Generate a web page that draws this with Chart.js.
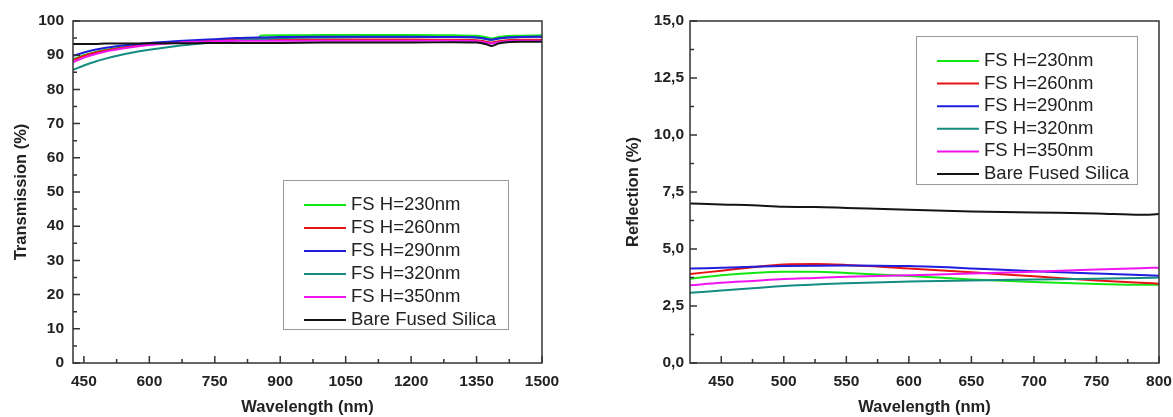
<!DOCTYPE html>
<html>
<head>
<meta charset="utf-8">
<script src="https://cdn.jsdelivr.net/npm/chart.js@4.4.1/dist/chart.umd.min.js"></script>
<style>
  body { margin: 0; background: #fff; }
  #wrap { position: relative; width: 1173px; height: 417px; }
  .box { position: absolute; top: 0; height: 417px; }
</style>
</head>
<body>
<div id="wrap">
  <div class="box" style="left:0;width:590px"><canvas id="trans_chart"></canvas></div>
  <div class="box" style="left:600px;width:573px"><canvas id="refl_chart"></canvas></div>
</div>
<script>
const seriesLabels = ["FS H=230nm", "FS H=260nm", "FS H=290nm", "FS H=320nm", "FS H=350nm", "Bare Fused Silica"];
const seriesColors = ["rgb(20,230,20)", "rgb(230,20,20)", "rgb(30,30,220)", "rgb(20,140,130)", "rgb(240,20,240)", "rgb(20,20,20)"];

// transmission (left)
const transWl = [425, 450, 475, 500, 550, 600, 650, 700, 750, 800, 850, 855, 900, 1000, 1100, 1200, 1300, 1350, 1370, 1385, 1400, 1420, 1450, 1500];
const trans230 = [88.8, 90.0, 90.9, 91.6, 92.5, 93.2, 93.7, 94.1, 94.4, 94.7, 94.9, 95.7, 95.8, 95.9, 95.9, 95.9, 95.8, 95.7, 95.3, 94.9, 95.3, 95.6, 95.7, 95.8];
const trans260 = [88.6, 89.8, 90.7, 91.4, 92.4, 93.1, 93.6, 94.0, 94.3, 94.5, 94.6, 94.6, 94.6, 94.6, 94.6, 94.6, 94.5, 94.4, 94.0, 93.7, 94.1, 94.4, 94.5, 94.5];
const trans290 = [89.8, 90.8, 91.6, 92.2, 93.0, 93.6, 94.0, 94.4, 94.7, 95.0, 95.2, 95.2, 95.3, 95.4, 95.4, 95.4, 95.3, 95.2, 94.8, 94.5, 94.9, 95.2, 95.3, 95.4];
const trans320 = [85.7, 87.0, 88.1, 89.0, 90.5, 91.6, 92.5, 93.2, 93.8, 94.3, 94.7, 94.7, 95.0, 95.2, 95.3, 95.3, 95.3, 95.2, 94.8, 94.5, 94.9, 95.2, 95.3, 95.4];
const trans350 = [88.0, 89.3, 90.3, 91.1, 92.2, 93.0, 93.5, 93.9, 94.1, 94.2, 94.2, 94.2, 94.2, 94.2, 94.2, 94.2, 94.2, 94.1, 93.7, 93.4, 93.8, 94.1, 94.2, 94.2];
const transBare = [93.3, 93.3, 93.3, 93.4, 93.4, 93.5, 93.5, 93.5, 93.6, 93.6, 93.6, 93.6, 93.6, 93.7, 93.7, 93.7, 93.8, 93.7, 93.3, 92.7, 93.4, 93.8, 93.9, 93.9];
const transXTicks = [450, 600, 750, 900, 1050, 1200, 1350, 1500];
const transXMinor = [525, 675, 825, 975, 1125, 1275, 1425];
const transYTicks = [0, 10, 20, 30, 40, 50, 60, 70, 80, 90, 100];
const transYMinor = [5, 15, 25, 35, 45, 55, 65, 75, 85, 95];

// reflection (right)
const reflWl = [425, 450, 475, 500, 525, 550, 600, 650, 700, 750, 785, 800];
const refl230 = [3.70, 3.85, 3.95, 4.00, 4.00, 3.95, 3.82, 3.66, 3.55, 3.47, 3.43, 3.43];
const refl260 = [3.90, 4.05, 4.20, 4.32, 4.34, 4.30, 4.15, 3.98, 3.80, 3.62, 3.52, 3.48];
const refl290 = [4.14, 4.18, 4.22, 4.25, 4.27, 4.28, 4.25, 4.15, 4.02, 3.92, 3.86, 3.83];
const refl320 = [3.08, 3.18, 3.28, 3.38, 3.44, 3.50, 3.57, 3.62, 3.66, 3.70, 3.73, 3.75];
const refl350 = [3.41, 3.52, 3.60, 3.68, 3.73, 3.78, 3.85, 3.92, 4.00, 4.10, 4.16, 4.18];
const reflBare = [7.00, 6.95, 6.92, 6.85, 6.84, 6.80, 6.72, 6.65, 6.60, 6.56, 6.50, 6.53];
const reflXTicks = [450, 500, 550, 600, 650, 700, 750, 800];
const reflXMinor = [475, 525, 575, 625, 675, 725, 775];
const reflYTicks = [0, 2.5, 5, 7.5, 10, 12.5, 15];
const reflYMinor = [1.25, 3.75, 6.25, 8.75, 11.25, 13.75];

const frameTicks = {
  id: "frameTicks",
  afterDatasetsDraw(chart, args, opts) {
    const { ctx, chartArea: a, scales: { x, y } } = chart;
    ctx.save();
    ctx.strokeStyle = "#333";
    ctx.lineWidth = 1.5;
    ctx.strokeRect(a.left, a.top, a.right - a.left, a.bottom - a.top);
    ctx.beginPath();
    x.ticks.forEach((t) => { const p = x.getPixelForValue(t.value); ctx.moveTo(p, a.bottom); ctx.lineTo(p, a.bottom - 7); });
    opts.xMinor.forEach((v) => { const p = x.getPixelForValue(v); ctx.moveTo(p, a.bottom); ctx.lineTo(p, a.bottom - 4); });
    y.ticks.forEach((t) => { const p = y.getPixelForValue(t.value); ctx.moveTo(a.left, p); ctx.lineTo(a.left + 7, p); });
    opts.yMinor.forEach((v) => { const p = y.getPixelForValue(v); ctx.moveTo(a.left, p); ctx.lineTo(a.left + 4, p); });
    ctx.stroke();
    ctx.restore();
  },
};

const boxLegend = {
  id: "boxLegend",
  afterDraw(chart, args, opts) {
    const ctx = chart.ctx;
    ctx.save();
    ctx.fillStyle = "#fff";
    ctx.fillRect(opts.left, opts.top, opts.width, opts.height);
    ctx.strokeStyle = "#999";
    ctx.lineWidth = 1;
    ctx.strokeRect(opts.left + 0.5, opts.top + 0.5, opts.width, opts.height);
    ctx.font = "18.5px 'Liberation Sans', Arial, sans-serif";
    ctx.textBaseline = "middle";
    chart.data.datasets.forEach((ds, i) => {
      const yy = opts.top + opts.firstRow + i * opts.rowGap;
      ctx.strokeStyle = ds.borderColor;
      ctx.lineWidth = 2;
      ctx.beginPath();
      ctx.moveTo(opts.left + 21, yy);
      ctx.lineTo(opts.left + 63, yy);
      ctx.stroke();
      ctx.fillStyle = "#222";
      ctx.fillText(ds.label, opts.left + 68, yy);
    });
    ctx.restore();
  },
};

function makeDatasets(wl, lists) {
  const order = [6, 5, 3, 4, 2, 1];
  return lists.map((vals, i) => ({
    label: seriesLabels[i],
    data: wl.map((w, k) => ({ x: w, y: vals[k] })),
    borderColor: seriesColors[i],
    backgroundColor: seriesColors[i],
    borderWidth: 2,
    pointRadius: 0,
    cubicInterpolationMode: "monotone",
    order: order[i],
  }));
}

const tickFont = { family: "'Liberation Sans', Arial, sans-serif", size: 15.5, weight: "bold" };
const titleFont = { family: "'Liberation Sans', Arial, sans-serif", size: 16.5, weight: "bold" };

function makeOptions(cfg) {
  return {
    responsive: true,
    maintainAspectRatio: false,
    animation: false,
    layout: { padding: { left: 0, right: cfg.padRight, top: 21, bottom: 0 } },
    plugins: {
      legend: { display: false },
      tooltip: { enabled: false },
      frameTicks: { xMinor: cfg.xMinor, yMinor: cfg.yMinor },
      boxLegend: cfg.legend,
    },
    scales: {
      x: {
        type: "linear",
        min: 425,
        max: cfg.xMax,
        grid: { display: false, drawTicks: false },
        border: { display: false },
        afterBuildTicks: (s) => { s.ticks = cfg.xTicks.map((v) => ({ value: v })); },
        afterFit: (s) => { s.height = 54; s.paddingLeft = 0; s.paddingRight = 0; },
        ticks: { color: "#222", font: tickFont, padding: 9, maxRotation: 0, autoSkip: false, callback: (v) => String(v) },
        title: { display: true, text: "Wavelength (nm)", color: "#222", font: titleFont, padding: 0 },
      },
      y: {
        type: "linear",
        min: 0,
        max: cfg.yMax,
        grid: { display: false, drawTicks: false },
        border: { display: false },
        afterBuildTicks: (s) => { s.ticks = cfg.yTicks.map((v) => ({ value: v })); },
        afterFit: (s) => { s.width = cfg.yWidth; s.paddingTop = 0; s.paddingBottom = 0; },
        ticks: { color: "#222", font: tickFont, padding: cfg.yPad, autoSkip: false, callback: cfg.yFmt },
        title: { display: true, text: cfg.yTitle, color: "#222", font: titleFont, padding: { top: cfg.yTitlePad, bottom: 0 } },
      },
    },
  };
}

new Chart(document.getElementById("trans_chart"), {
  type: "line",
  data: { datasets: makeDatasets(transWl, [trans230, trans260, trans290, trans320, trans350, transBare]) },
  options: makeOptions({
    padRight: 48, xMax: 1500, yMax: 100, yWidth: 73, yPad: 9, yTitlePad: 12,
    xTicks: transXTicks, xMinor: transXMinor, yTicks: transYTicks, yMinor: transYMinor,
    yTitle: "Transmission (%)", yFmt: (v) => String(v),
    legend: { left: 283, top: 180, width: 225, height: 149, firstRow: 25, rowGap: 23 },
  }),
  plugins: [frameTicks, boxLegend],
});

new Chart(document.getElementById("refl_chart"), {
  type: "line",
  data: { datasets: makeDatasets(reflWl, [refl230, refl260, refl290, refl320, refl350, reflBare]) },
  options: makeOptions({
    padRight: 14, xMax: 800, yMax: 15, yWidth: 90, yPad: 6, yTitlePad: 24,
    xTicks: reflXTicks, xMinor: reflXMinor, yTicks: reflYTicks, yMinor: reflYMinor,
    yTitle: "Reflection (%)", yFmt: (v) => v.toFixed(1).replace(".", ","),
    legend: { left: 316, top: 36, width: 221, height: 148, firstRow: 25, rowGap: 22.6 },
  }),
  plugins: [frameTicks, boxLegend],
});
</script>
</body>
</html>
